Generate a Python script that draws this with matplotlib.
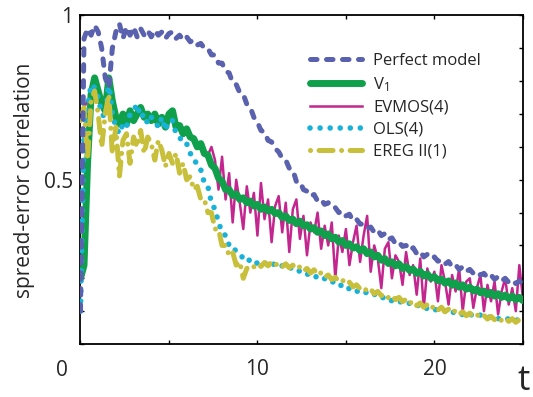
import numpy as np
import matplotlib
matplotlib.use("Agg")
import matplotlib.pyplot as plt

plt.rcParams['font.family'] = ['Open Sans', 'DejaVu Sans']
plt.rcParams['mathtext.default'] = 'regular'

# lead time (t = 0, 0.2, ..., 25)
t = np.round(np.arange(126) * 0.2, 2)

perfect_model = [
    0.10, 0.93, 0.96, 0.94, 0.97, 0.95, 0.90, 0.81, 0.78, 0.90,
    0.95, 0.975, 0.93, 0.965, 0.94, 0.965, 0.935, 0.96, 0.94, 0.955,
    0.935, 0.955, 0.94, 0.95, 0.93, 0.945, 0.95, 0.93, 0.94, 0.925,
    0.935, 0.92, 0.925, 0.91, 0.915, 0.90, 0.90, 0.88, 0.88, 0.855,
    0.855, 0.83, 0.825, 0.795, 0.79, 0.765, 0.76, 0.73, 0.72, 0.69,
    0.675, 0.65, 0.645, 0.62, 0.615, 0.595, 0.585, 0.565, 0.56, 0.535,
    0.53, 0.495, 0.495, 0.47, 0.465, 0.45, 0.455, 0.435, 0.44, 0.425,
    0.43, 0.415, 0.415, 0.40, 0.405, 0.39, 0.395, 0.375, 0.38, 0.365,
    0.365, 0.352, 0.356, 0.34, 0.347, 0.33, 0.336, 0.318, 0.323, 0.305,
    0.31, 0.297, 0.30, 0.285, 0.293, 0.275, 0.282, 0.265, 0.273, 0.26,
    0.265, 0.252, 0.256, 0.243, 0.251, 0.235, 0.241, 0.227, 0.235, 0.221,
    0.227, 0.215, 0.221, 0.21, 0.215, 0.202, 0.21, 0.197, 0.205, 0.192,
    0.20, 0.188, 0.195, 0.184, 0.192, 0.18,
]

v1 = [
    0.20, 0.24, 0.55, 0.76, 0.81, 0.77, 0.73, 0.71, 0.81, 0.74,
    0.69, 0.67, 0.70, 0.67, 0.71, 0.68, 0.70, 0.72, 0.69, 0.70,
    0.68, 0.70, 0.67, 0.69, 0.66, 0.70, 0.71, 0.66, 0.665, 0.64,
    0.655, 0.63, 0.625, 0.60, 0.61, 0.58, 0.575, 0.545, 0.535, 0.505,
    0.495, 0.47, 0.47, 0.452, 0.457, 0.44, 0.445, 0.43, 0.435, 0.42,
    0.425, 0.41, 0.417, 0.405, 0.41, 0.397, 0.40, 0.385, 0.39, 0.376,
    0.38, 0.366, 0.374, 0.36, 0.363, 0.35, 0.354, 0.34, 0.344, 0.33,
    0.335, 0.32, 0.325, 0.31, 0.315, 0.30, 0.305, 0.292, 0.296, 0.284,
    0.29, 0.275, 0.28, 0.265, 0.27, 0.255, 0.26, 0.245, 0.25, 0.238,
    0.244, 0.23, 0.236, 0.224, 0.228, 0.215, 0.221, 0.207, 0.213, 0.20,
    0.205, 0.193, 0.197, 0.185, 0.192, 0.179, 0.186, 0.173, 0.18, 0.167,
    0.173, 0.162, 0.167, 0.156, 0.161, 0.15, 0.157, 0.146, 0.153, 0.142,
    0.149, 0.138, 0.146, 0.135, 0.142, 0.132,
]

evmos4 = [
    0.70, 0.72, 0.74, 0.76, 0.79, 0.76, 0.73, 0.72, 0.79, 0.74,
    0.69, 0.67, 0.70, 0.67, 0.71, 0.68, 0.70, 0.72, 0.69, 0.70,
    0.68, 0.70, 0.67, 0.69, 0.66, 0.70, 0.71, 0.66, 0.665, 0.64,
    0.655, 0.63, 0.625, 0.60, 0.61, 0.58, 0.575, 0.60, 0.56, 0.47,
    0.57, 0.44, 0.52, 0.37, 0.50, 0.43, 0.35, 0.48, 0.40, 0.46,
    0.33, 0.49, 0.38, 0.44, 0.31, 0.42, 0.45, 0.34, 0.43, 0.28,
    0.41, 0.44, 0.32, 0.39, 0.27, 0.37, 0.34, 0.40, 0.29, 0.36,
    0.30, 0.37, 0.20, 0.33, 0.28, 0.35, 0.24, 0.31, 0.36, 0.25,
    0.33, 0.39, 0.22, 0.30, 0.26, 0.17, 0.29, 0.31, 0.20, 0.27,
    0.25, 0.18, 0.28, 0.21, 0.24, 0.15, 0.26, 0.11, 0.23, 0.19,
    0.22, 0.13, 0.24, 0.19, 0.12, 0.21, 0.16, 0.23, 0.10, 0.19,
    0.20, 0.11, 0.17, 0.21, 0.10, 0.18, 0.13, 0.19, 0.09, 0.16,
    0.20, 0.12, 0.17, 0.10, 0.24, 0.14,
]

ols4 = [
    0.10, 0.66, 0.72, 0.79, 0.78, 0.75, 0.70, 0.69, 0.80, 0.70,
    0.66, 0.64, 0.67, 0.66, 0.70, 0.71, 0.73, 0.69, 0.70, 0.67,
    0.69, 0.68, 0.66, 0.69, 0.65, 0.68, 0.68, 0.64, 0.63, 0.61,
    0.61, 0.58, 0.57, 0.54, 0.53, 0.49, 0.48, 0.43, 0.41, 0.37,
    0.34, 0.33, 0.30, 0.30, 0.28, 0.275, 0.26, 0.265, 0.25, 0.255,
    0.245, 0.25, 0.243, 0.25, 0.24, 0.245, 0.235, 0.238, 0.23, 0.234,
    0.228, 0.231, 0.22, 0.222, 0.212, 0.214, 0.203, 0.206, 0.196, 0.199,
    0.189, 0.192, 0.182, 0.185, 0.174, 0.178, 0.167, 0.17, 0.16, 0.163,
    0.154, 0.158, 0.149, 0.152, 0.142, 0.145, 0.137, 0.14, 0.131, 0.134,
    0.127, 0.13, 0.121, 0.124, 0.116, 0.12, 0.112, 0.115, 0.107, 0.11,
    0.103, 0.107, 0.099, 0.102, 0.095, 0.099, 0.092, 0.096, 0.089, 0.093,
    0.087, 0.091, 0.084, 0.088, 0.082, 0.085, 0.079, 0.083, 0.077, 0.08,
    0.074, 0.077, 0.072, 0.075, 0.07, 0.072,
]

ereg2 = [
    0.68, 0.72, 0.56, 0.74, 0.77, 0.70, 0.60, 0.70, 0.76, 0.58,
    0.66, 0.51, 0.62, 0.64, 0.55, 0.63, 0.60, 0.65, 0.58, 0.63,
    0.61, 0.56, 0.62, 0.59, 0.54, 0.58, 0.55, 0.58, 0.52, 0.55,
    0.50, 0.51, 0.47, 0.48, 0.44, 0.44, 0.40, 0.40, 0.35, 0.35,
    0.30, 0.30, 0.27, 0.28, 0.24, 0.25, 0.20, 0.23, 0.24, 0.235,
    0.245, 0.236, 0.248, 0.238, 0.25, 0.24, 0.246, 0.235, 0.244, 0.232,
    0.24, 0.228, 0.235, 0.222, 0.23, 0.216, 0.226, 0.21, 0.217, 0.203,
    0.21, 0.196, 0.203, 0.19, 0.195, 0.182, 0.188, 0.174, 0.18, 0.168,
    0.173, 0.16, 0.167, 0.153, 0.16, 0.147, 0.153, 0.141, 0.148, 0.135,
    0.142, 0.129, 0.136, 0.123, 0.131, 0.117, 0.125, 0.112, 0.12, 0.107,
    0.116, 0.103, 0.112, 0.098, 0.106, 0.094, 0.102, 0.09, 0.098, 0.086,
    0.094, 0.083, 0.09, 0.08, 0.087, 0.076, 0.084, 0.074, 0.082, 0.071,
    0.079, 0.069, 0.077, 0.066, 0.074, 0.064,
]

x_ticks = [0, 5, 10, 15, 20, 25]
x_ticklabels = ['', '', '10', '', '20', '']
y_ticks = [0, 0.1, 0.2, 0.3, 0.4, 0.5, 0.6, 0.7, 0.8, 0.9, 1.0]
y_ticklabels = ['', '', '', '', '', '0.5', '', '', '', '', '1']

text_color = '#262626'

fig = plt.figure(figsize=(5.33, 3.97), dpi=100)
ax = fig.add_axes([0.151, 0.1335, 0.830, 0.8275])

ax.plot(t, evmos4, color='#c3268f', lw=1.8, zorder=2, label='EVMOS(4)')
ax.plot(t, v1, color='#10a04c', lw=5.0, zorder=3, solid_capstyle='round',
        solid_joinstyle='round', label='V$_1$')
ax.plot(t, ols4, color='#18b2d8', lw=4.0, zorder=4, linestyle=(0, (0.01, 1.8)),
        dash_capstyle='round', label='OLS(4)')
ax.plot(t, ereg2, color='#c8bf3a', lw=3.6, zorder=5,
        linestyle=(0, (0.01, 1.7, 2.8, 1.7)), dash_capstyle='round',
        label='EREG II(1)')
ax.plot(t, perfect_model, color='#5a61ae', lw=3.6, zorder=6,
        linestyle=(0, (1.3, 1.9)), dash_capstyle='round', label='Perfect model')

ax.set_xlim(0, 25)
ax.set_ylim(0, 1)
ax.set_xticks(x_ticks)
ax.set_xticklabels(x_ticklabels)
ax.set_yticks(y_ticks)
ax.set_yticklabels(y_ticklabels)
ax.tick_params(direction='in', length=3, width=1.0, top=True, right=True,
               labelsize=15, colors='black', labelcolor=text_color)
ax.tick_params(axis='x', pad=11)
ax.tick_params(axis='y', pad=5)
for s in ax.spines.values():
    s.set_linewidth(1.3)
    s.set_color('black')

fig.text(62 / 533, 1 - 370 / 397, '0', fontsize=15, color=text_color,
         ha='center', va='center')
fig.text(25 / 533, 1 - 180 / 397, 'spread-error correlation', fontsize=15,
         color=text_color, rotation=90, ha='center', va='center')
fig.text(524 / 533, 1 - 381 / 397, 't', fontsize=25, color=text_color,
         ha='center', va='center')

handles, labels = ax.get_legend_handles_labels()
order = ['Perfect model', 'V$_1$', 'EVMOS(4)', 'OLS(4)', 'EREG II(1)']
hmap = dict(zip(labels, handles))
leg = ax.legend([hmap[k] for k in order], order, loc='upper left',
                bbox_to_anchor=(310 / 533, 1 - 53 / 397),
                bbox_transform=fig.transFigure, frameon=False, fontsize=12,
                handlelength=3.1, handletextpad=0.7, labelspacing=0.36,
                borderpad=0, borderaxespad=0)
for txt in leg.get_texts():
    txt.set_color(text_color)

fig.savefig('out.png', dpi=100)
